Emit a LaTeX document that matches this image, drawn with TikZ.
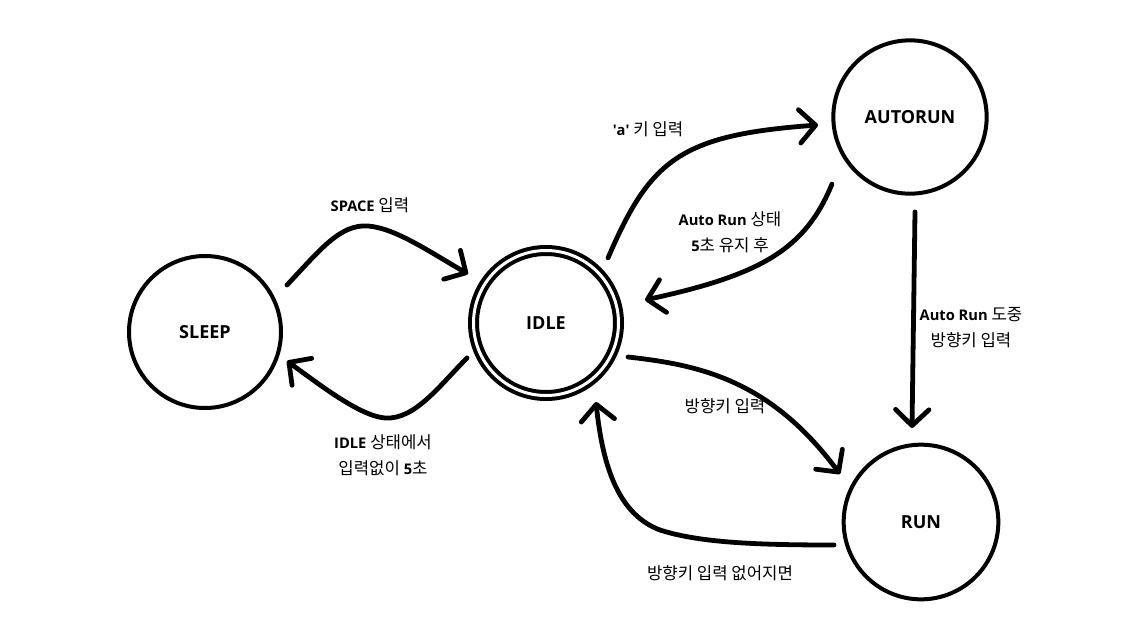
\documentclass[tikz,border=0pt]{standalone}
\usepackage{fontspec}
\setmainfont{Open Sans}
\newfontfamily\kr{Noto Sans CJK KR}[Scale=1.14]
\usetikzlibrary{arrows.meta}
\newcommand{\Kr}[1]{{\kr #1}}
\newcommand{\Bf}[1]{{\bfseries #1}}
\begin{document}
\begin{tikzpicture}[x=0.75pt,y=-0.75pt,
  statenode/.style={circle,draw,line width=3pt,minimum size=114pt,inner sep=0pt,
    font=\fontsize{13.5}{16}\selectfont\bfseries},
  edge/.style={line width=3.6pt,line cap=round,line join=round,
    -{Straight Barb[length=12pt,width=25pt,line cap=round,line join=round]}},
  lbl/.style={align=center,font=\fontsize{11}{19.5}\selectfont,inner sep=0pt}]
\useasboundingbox[fill=white] (0,0) rectangle (1125,618);

% states
\node[statenode] (sleep) at (205,332) {SLEEP};
\node[statenode,double,double distance=2.25pt,minimum size=108.75pt] (idle) at (546,323) {IDLE};
\node[statenode,minimum size=115pt] (autorun) at (910,117) {AUTORUN};
\node[statenode,minimum size=116pt] (run) at (921,522) {RUN};

% transitions
\draw[edge] ([shift={(82,-47)}]sleep.center) .. controls (320,250) and (340,224) .. (368,226)
  .. controls (395,228) and (430,252) .. ([shift={(-78,-49)}]idle.center);
\draw[edge] ([shift={(-79,35)}]idle.center) .. controls (440,385) and (415,420) .. (385,418)
  .. controls (360,416) and (320,385) .. ([shift={(82,29)}]sleep.center);
\draw[edge] ([shift={(62,-65)}]idle.center) .. controls (650,160) and (680,135) .. ([shift={(-92,8)}]autorun.center);
\draw[edge] ([shift={(-78,67)}]autorun.center) .. controls (805,250) and (760,275) .. ([shift={(99,-23)}]idle.center);
\draw[edge] ([shift={(5,95)}]autorun.center) -- ([shift={(-9,-94)}]run.center);
\draw[edge] ([shift={(82,34)}]idle.center) .. controls (700,365) and (770,380) .. ([shift={(-81,-48)}]run.center);
\draw[edge] ([shift={(-87,23)}]run.center) .. controls (760,545) and (700,543) .. (660,530)
  .. controls (620,515) and (603,470) .. ([shift={(50,79)}]idle.center);

% labels
\node[lbl] (l1) at (370,205) {\Bf{SPACE} \Kr{입력}};
\node[lbl] (l2) at (383,455) {\Bf{IDLE} \Kr{상태에서}\\\Kr{입력없이} \Bf{5}\Kr{초}};
\node[lbl] (l3) at (648,129) {\Bf{\textquotesingle a\textquotesingle} \Kr{키 입력}};
\node[lbl] (l4) at (730,232) {\Bf{Auto Run} \Kr{상태}\\\Bf{5}\Kr{초 유지 후}};
\node[lbl] (l5) at (971,328) {\Bf{Auto Run} \Kr{도중}\\\Kr{방향키 입력}};
\node[lbl] (l6) at (725,406) {\Kr{방향키 입력}};
\node[lbl] (l7) at (720,573) {\Kr{방향키 입력 없어지면}};
\end{tikzpicture}
\end{document}
